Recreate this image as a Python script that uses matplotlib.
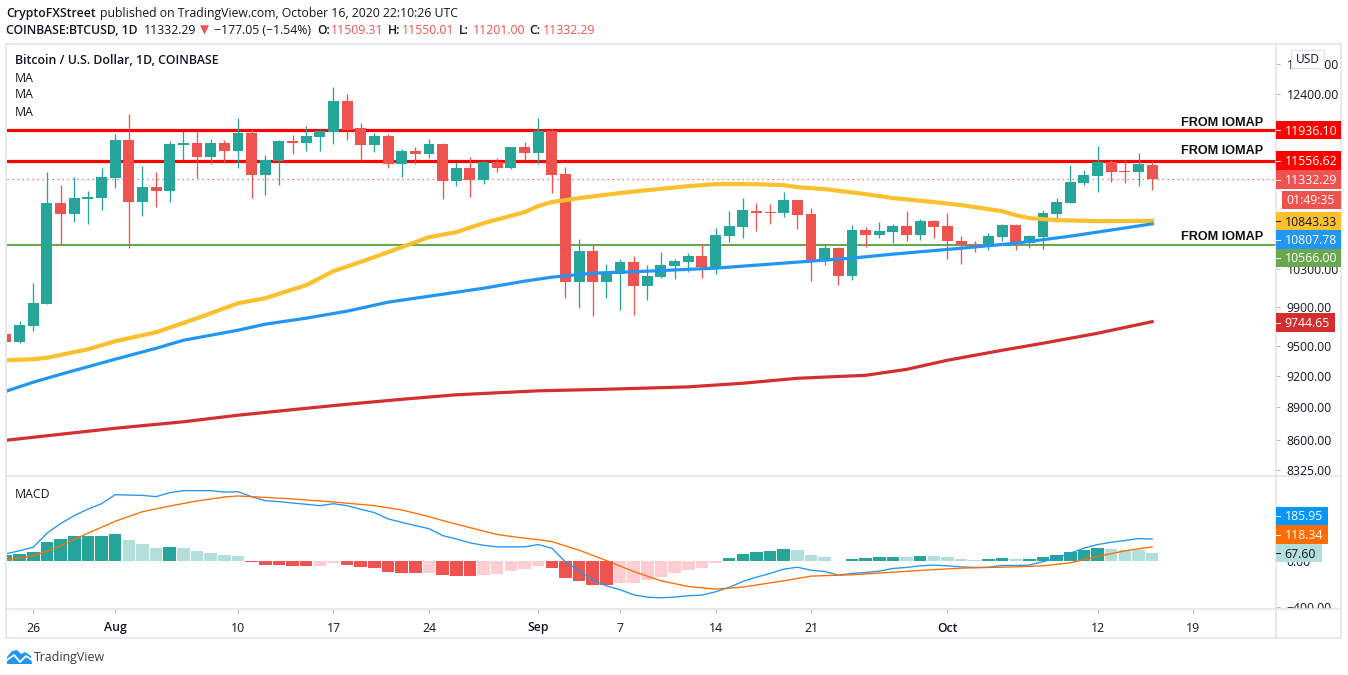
import matplotlib
matplotlib.use('Agg')
import matplotlib.pyplot as plt
from matplotlib.patches import Rectangle, Polygon, FancyBboxPatch
from matplotlib.lines import Line2D
from matplotlib.ticker import NullLocator, NullFormatter

W, H = 1348, 675
FONT = 'Open Sans'
FS = 8.85
plt.rcParams['font.family'] = [FONT, 'DejaVu Sans']

# day 0 is Jul 26, day 82 is Oct 16
days = list(range(-2, 83))
opens = [9616, 9535, 9698, 9927, 11048, 10920, 11095, 11107, 11344, 11810, 11060, 11236, 11189, 11748, 11773, 11600, 11773,
         11673, 11898, 11380, 11551, 11798, 11773, 11848, 11911, 12308, 11961, 11748, 11860, 11514, 11673, 11637, 11760,
         11308, 11465, 11320, 11539, 11465, 11723, 11649, 11923, 11392, 10161, 10500, 10161, 10247, 10379, 10118, 10215,
         10335, 10379, 10445, 10324, 10668, 10770, 10954, 10943, 10931, 11083, 10920, 10401, 10533, 10225, 10736, 10680,
         10714, 10782, 10680, 10839, 10782, 10611, 10578, 10545, 10657, 10793, 10589, 10657, 10920, 11048, 11284, 11368,
         11539, 11429, 11417, 11509]
highs = [9620, 9750, 10150, 11417, 11260, 11356, 11189, 11465, 11885, 12143, 11490, 11417, 11798, 11923, 11923, 11823, 11810,
         12088, 11948, 11624, 11810, 11873, 11986, 11936, 12492, 12400, 12025, 11898, 11885, 11698, 11723, 11823, 11773,
         11539, 11600, 11551, 11588, 11723, 11785, 12088, 11948, 11477, 10634, 10567, 10357, 10412, 10445, 10346, 10489,
         10412, 10478, 10578, 10759, 10954, 11107, 11048, 11036, 11177, 11083, 10989, 10578, 10545, 10793, 10770, 10828,
         10805, 10954, 10862, 10851, 10931, 10668, 10611, 10702, 10805, 10805, 10680, 10966, 11107, 11502, 11441, 11735,
         11563, 11563, 11649, 11550]
lows = [9530, 9525, 9647, 9927, 10567, 10828, 10805, 10966, 11225, 10533, 10897, 11000, 11060, 11563, 11344, 11514, 11526,
        11465, 11107, 11142, 11260, 11637, 11673, 11673, 11760, 11810, 11563, 11661, 11465, 11356, 11514, 11588, 11095,
        11248, 11118, 11272, 11417, 11453, 11563, 11514, 11166, 9990, 9885, 9802, 9990, 9864, 9812, 9969, 10204,
        10193, 10269, 10204, 10247, 10600, 10646, 10725, 10805, 10885, 10747, 10172, 10346, 10129, 10182, 10545, 10646,
        10589, 10611, 10623, 10646, 10412, 10357, 10489, 10511, 10611, 10511, 10533, 10522, 10828, 11048, 11260, 11177,
        11296, 11284, 11248, 11201]
closes = [9535, 9708, 9937, 11048, 10920, 11107, 11118, 11356, 11810, 11060, 11236, 11189, 11760, 11773, 11600, 11773, 11673,
          11898, 11380, 11563, 11798, 11773, 11860, 11923, 12308, 11936, 11748, 11860, 11514, 11673, 11637, 11760, 11308,
          11465, 11320, 11539, 11465, 11723, 11649, 11923, 11380, 10161, 10500, 10161, 10269, 10379, 10118, 10225, 10346,
          10390, 10445, 10324, 10680, 10782, 10966, 10931, 10931, 11083, 10908, 10401, 10533, 10225, 10736, 10680, 10725,
          10782, 10680, 10839, 10770, 10611, 10567, 10556, 10668, 10793, 10600, 10668, 10931, 11060, 11296, 11380, 11539,
          11417, 11417, 11514, 11332]

ma_yellow_days = [-2, 0, 1, 4, 6, 9, 12, 15, 17, 20, 22, 25, 29, 31, 33, 36, 37, 38, 40, 43, 45, 48, 50, 53, 55, 56, 58, 61,
                  63, 66, 68, 71, 72, 73, 75, 78, 82]
ma_yellow = [9355, 9365, 9380, 9464, 9545, 9636, 9780, 9937, 9990, 10129, 10280, 10434, 10657, 10714, 10816, 10943, 11013,
             11060, 11107, 11166, 11201, 11248, 11272, 11272, 11260, 11236, 11213, 11154, 11107, 11060, 11025, 10954, 10908,
             10874, 10851, 10839, 10843]
ma_blue_days = [-2, 0, 2, 6, 9, 11, 15, 17, 20, 23, 26, 30, 33, 36, 38, 41, 45, 50, 53, 55, 60, 63, 68, 72, 76, 82]
ma_blue = [9053, 9140, 9217, 9365, 9474, 9555, 9657, 9719, 9781, 9854, 9948, 10032, 10096, 10172, 10215, 10258, 10280,
           10313, 10346, 10368, 10423, 10467, 10533, 10589, 10668, 10808]
ma_red_days = [-2, 2, 6, 11, 15, 20, 23, 27, 31, 37, 42, 48, 52, 56, 61, 64, 67, 71, 74, 78, 82]
ma_red = [8595, 8650, 8705, 8765, 8826, 8891, 8929, 8976, 9019, 9057, 9072, 9095, 9130, 9178, 9207, 9265, 9355, 9454,
          9525, 9626, 9745]

hist = [49, 58, 75, 161, 187, 213, 213, 213, 230, 179, 144, 109, 118, 109, 84, 66, 49, 40, -12, -37, -37, -46, -46, -46,
        -20, -37, -55, -63, -98, -107, -107, -107, -124, -132, -132, -124, -115, -89, -72, -46, -63, -150, -176, -210, -210,
        -193, -193, -167, -141, -107, -81, -63, -20, 23, 58, 75, 84, 101, 92, 49, 32, -6, 14, 23, 32, 32, 32, 40, 40, 32, 14,
        6, 14, 23, 14, 14, 32, 49, 75, 92, 109, 101, 92, 92, 67.6]
hist_shade = ('DDDDDDDDD' 'LLL' 'D' 'LLLLL' 'RRRRR' 'PP' 'RRRRRR' 'P' 'RRR' 'PPPPP' 'RRRRR' 'PPPPPPPP' 'DDDDD' 'LLL' 'R'
              'DDDD' 'L' 'D' 'LLLL' 'DD' 'L' 'DDDDDD' 'LLLL')
macd = [58, 85, 115, 236, 320, 389, 445, 492, 570, 567, 564, 553, 588, 605, 605, 605, 593, 596, 553, 518, 510, 498, 487, 475,
        492, 475, 443, 415, 360, 331, 302, 276, 216, 187, 153, 132, 118, 118, 118, 138, 107, -12, -89, -167, -219, -253,
        -297, -317, -323, -317, -305, -300, -271, -233, -181, -144, -112, -75, -58, -84, -95, -127, -112, -104, -92, -69,
        -60, -46, -40, -46, -55, -60, -58, -43, -43, -40, -9, 20, 63, 107, 138, 158, 173, 190, 186]
signal_days = [-2, 0, 1, 2, 3, 5, 6, 8, 10, 12, 14, 15, 17, 19, 22, 25, 27, 29, 30, 32, 34, 36, 37, 38, 40, 42, 44, 46, 48,
               50, 52, 55, 57, 60, 63, 65, 68, 72, 74, 76, 78, 80, 82]
signal = [6, 40, 81, 124, 184, 288, 340, 423, 472, 516, 550, 559, 547, 533, 507, 475, 438, 380, 346, 285, 225, 193, 181,
          164, 89, 0, -95, -176, -225, -248, -230, -176, -135, -124, -101, -86, -66, -55, -46, -20, 35, 84, 118]

x_ticks = [0, 6, 15, 22, 29, 37, 43, 50, 57, 67, 78, 85]
x_labels = ['26', 'Aug', '10', '17', '24', 'Sep', '7', '14', '21', 'Oct', '12', '19']
price_ticks = [12800, 12400, 10300, 9900, 9500, 9200, 8900, 8600, 8325]
macd_ticks = [0, -400]

level_values = [11936.10, 11556.62, 10566.00]
level_colors = ['#ff0000', '#ff0000', '#6aa84f']
level_widths = [2.3, 2.3, 1.5]

GREEN = '#26a69a'
RED = '#ef5350'
TEXT = '#131722'
BORDER = '#e0e3eb'


def figX(x):
    return x / W


def figY(y):
    return 1 - y / H


def makeAxes(top, bottom):
    ax = fig.add_axes([figX(6.5), figY(bottom), 1269 / W, (bottom - top) / H])
    ax.set_xlim(-1.964, 91.04)
    for s in ax.spines.values():
        s.set_visible(False)
    ax.yaxis.tick_right()
    ax.tick_params(axis='y', length=3, width=0.7, color='#b2b5be', labelcolor=TEXT, labelsize=FS, pad=5)
    ax.tick_params(axis='x', length=3, width=0.7, color='#b2b5be', labelcolor=TEXT, labelsize=FS, pad=6)
    return ax


def tag(top, bottom, text, bg, fg='white', left=1275.5, right=1341, tx=1285):
    mid = (top + bottom) / 2
    fig.add_artist(Rectangle((figX(left), figY(bottom)), (right - left) / W, (bottom - top) / H, transform=fig.transFigure,
                             color=bg, lw=0, zorder=6))
    fig.text(figX(tx), figY(mid + 1), text, color=fg, fontsize=FS, va='center', ha='left', zorder=7)
    fig.add_artist(Line2D([figX(left), figX(left + 4)], [figY(mid)] * 2, color=fg, lw=0.7, zorder=7))


def header(x, y, text, color=TEXT, weight='normal'):
    fig.text(figX(x), figY(y + 1.5), text, color=color, fontsize=FS, fontweight=weight, va='center', ha='left')


def frameLine(x0, y0, x1, y1):
    fig.add_artist(Line2D([figX(x0), figX(x1)], [figY(y0), figY(y1)], color=BORDER, lw=1.1, zorder=4))


fig = plt.figure(figsize=(W / 100, H / 100), dpi=100, facecolor='white')

ax = makeAxes(44, 476)
ax.set_yscale('log')
ax.set_ylim(8276, 13075)
ax.yaxis.set_minor_locator(NullLocator())
ax.yaxis.set_minor_formatter(NullFormatter())
ax.set_yticks(price_ticks)
ax.set_yticklabels(['%.2f' % p for p in price_ticks])
ax.set_xticks([])

for value, color, width in zip(level_values, level_colors, level_widths):
    ax.axhline(value, color=color, lw=width, zorder=1)
ax.axhline(closes[-1], color=RED, lw=0.9, ls=(0, (1, 3)), zorder=1)

for d, o, h, l, c in zip(days, opens, highs, lows, closes):
    col = GREEN if c >= o else RED
    ax.plot([d, d], [l, h], color=col, lw=0.95, zorder=2, solid_capstyle='butt')
    ax.bar(d, abs(c - o), bottom=min(o, c), width=0.8, color=col, lw=0, zorder=3)

ax.plot(ma_red_days, ma_red, color='#d32f2f', lw=2.3, zorder=4)
ax.plot(ma_yellow_days, ma_yellow, color='#fbc02d', lw=3, zorder=4)
ax.plot(ma_blue_days, ma_blue, color='#2196f3', lw=2.3, zorder=5)

axm = makeAxes(476, 609)
axm.set_ylim(-420, 732)
axm.set_yticks(macd_ticks)
axm.set_yticklabels(['0.00', '\u2212400.00'])
axm.set_xticks(x_ticks)
axm.set_xticklabels(x_labels)
for lab in axm.get_xticklabels():
    if lab.get_text() in ('Aug', 'Sep', 'Oct'):
        lab.set_fontweight('semibold')
shades = {'D': GREEN, 'L': '#b2dfdb', 'R': RED, 'P': '#ffcdd2'}
axm.bar(days, hist, width=0.92, color=[shades[s] for s in hist_shade], lw=0, zorder=2)
axm.plot(days, macd, color='#2196f3', lw=0.95, zorder=3)
axm.plot(signal_days, signal, color='#ff6d00', lw=0.95, zorder=4)

# strip under the macd pane hides the clipped -400 label
fig.add_artist(Rectangle((figX(1276), figY(638)), 65 / W, 29 / H, transform=fig.transFigure, color='white', lw=0, zorder=3))

frameLine(6, 43.5, 1341, 43.5)
frameLine(6, 43.5, 6, 638)
frameLine(1341, 43.5, 1341, 638)
frameLine(6, 638, 1341, 638)
frameLine(1275.5, 43.5, 1275.5, 638)
frameLine(6, 476, 1341, 476)
frameLine(6, 609, 1341, 609)

# price tags, stacked the way the chart stacks them
tag(121, 139.3, '11936.10', '#ff0000')
tag(151, 170, '11556.62', '#ff0000')
tag(170, 189, '11332.29', RED)
fig.add_artist(Rectangle((figX(1282), figY(209)), 59 / W, 18.5 / H, transform=fig.transFigure, color=RED, lw=0, zorder=6))
fig.text(figX(1286), figY(201), '01:49:35', color='white', fontsize=FS, va='center', zorder=7)
tag(212, 230, '10843.33', '#fbc02d', TEXT)
tag(230, 249, '10807.78', '#2196f3')
tag(249, 267, '10566.00', '#6aa84f')
tag(313, 332, '9744.65', '#d32f2f', right=1335, tx=1284)
tag(507, 525, '185.95', '#0496ff', right=1328)
tag(525, 544, '118.34', '#ff6d00', right=1328)
tag(544, 562, '67.60', '#b2dfdb', TEXT, right=1322, tx=1284)

fig.add_artist(FancyBboxPatch((figX(1293), figY(68)), 30 / W, 17 / H, boxstyle='round,pad=0.001', transform=fig.transFigure,
                              fc='white', ec=BORDER, lw=0.9, zorder=6))
fig.text(figX(1308), figY(59.5), 'USD', color=TEXT, fontsize=8.6, ha='center', va='center', zorder=7)

for y in [123.5, 150.5, 237.5]:
    fig.text(figX(1263), figY(y), 'FROM IOMAP', color='#111111', fontsize=9.1, fontweight='bold',
             family=['Liberation Sans'], ha='right', va='center', zorder=6)

fig.text(figX(15), figY(61), 'Bitcoin / U.S. Dollar, 1D, COINBASE', color=TEXT, fontsize=FS + 0.1, fontweight='semibold', va='center')
for y in [78, 95, 112]:
    fig.text(figX(15), figY(y), 'MA', color=TEXT, fontsize=FS, va='center')
fig.text(figX(15), figY(494.5), 'MACD', color=TEXT, fontsize=FS, va='center')

# header lines
header(6, 12, 'CryptoFXStreet', weight='semibold')
header(100, 12, 'published on TradingView.com, October 16, 2020 22:10:26 UTC')
header(6, 29, 'COINBASE:BTCUSD, 1D', weight='semibold')
header(144, 29, '11332.29')
fig.text(figX(200), figY(30), '\u25bc', color=RED, fontsize=8.5, family=['DejaVu Sans'], va='center')
header(214, 29, '\u2212177.05 (\u22121.54%)')
header(317, 29, 'O:', weight='semibold')
header(331, 29, '11509.31', RED)
header(388, 29, 'H:', weight='semibold')
header(402, 29, '11550.01', RED)
header(459, 29, 'L:', weight='semibold')
header(473, 29, '11201.00', RED)
header(529, 29, 'C:', weight='semibold')
header(543, 29, '11332.29', RED)

# footer logo
cloud = [(7, 664), (7, 657), (12, 651), (17, 650), (21, 654), (25, 652), (31, 656), (32, 664)]
fig.add_artist(Polygon([(figX(x), figY(y)) for x, y in cloud], transform=fig.transFigure, fc='#2196f3', ec='none', zorder=6))
fig.add_artist(Line2D([figX(x) for x in (7, 14, 20, 26, 32)], [figY(y) for y in (660, 655, 662, 656, 660)], color='white', lw=1.3, zorder=7))
fig.text(figX(34), figY(658), 'TradingView', color='#333b4d', fontsize=8.9, va='center')

fig.savefig('out.png', dpi=100)
